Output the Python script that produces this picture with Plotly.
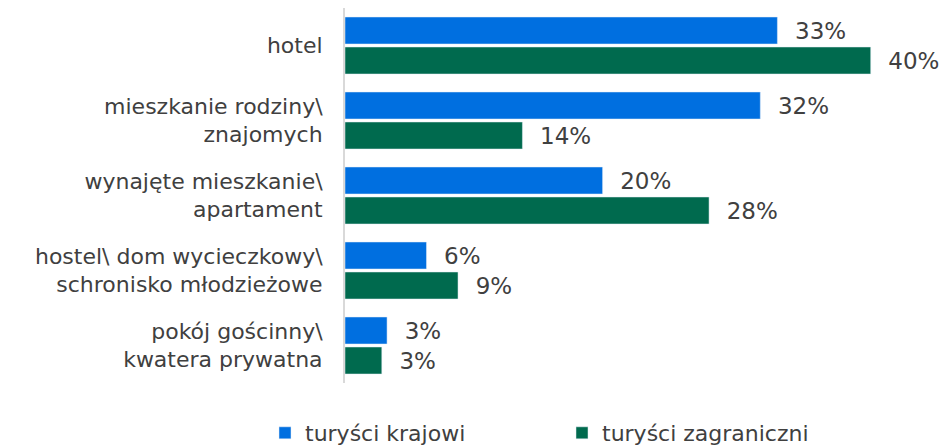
import plotly.graph_objects as go

categories = ["hotel", "mieszkanie rodziny\\<br>znajomych", "wynajęte mieszkanie\\<br>apartament",
              "hostel\\ dom wycieczkowy\\<br>schronisko młodzieżowe", "pokój gościnny\\<br>kwatera prywatna"]
krajowi = [32.9, 31.6, 19.6, 6.2, 3.2]
zagraniczni = [40.0, 13.5, 27.7, 8.6, 2.8]

font_family = "DejaVu Sans, sans-serif"
txt_col = "#404040"
pad = "\u00a0\u00a0"

fig = go.Figure()
fig.add_trace(go.Bar(y=categories, x=krajowi, orientation="h", name="turyści krajowi",
                     marker_color="#006fe0", texttemplate=pad + "%{x:.0f}%", textposition="outside",
                     textfont=dict(size=23, color=txt_col), cliponaxis=False, legend="legend",
                     showlegend=True))
fig.add_trace(go.Bar(y=categories, x=zagraniczni, orientation="h", name="turyści zagraniczni",
                     marker_color="#006a4e", texttemplate=pad + "%{x:.0f}%", textposition="outside",
                     textfont=dict(size=23, color=txt_col), cliponaxis=False, legend="legend2",
                     showlegend=True))

leg_common = dict(orientation="h", xref="container", yref="container", xanchor="left",
                  y=0.0, yanchor="bottom", font=dict(size=22, color=txt_col, family=font_family))

# page body adds an 8px offset; the figure's bottom edge runs slightly below the window
fig.update_layout(
    width=940, height=446, showlegend=True,
    margin=dict(l=337, r=51, t=0, b=71),
    barmode="group", bargap=0.2, bargroupgap=0.1,
    plot_bgcolor="white", paper_bgcolor="white",
    font=dict(family=font_family, color=txt_col, size=22),
    legend=dict(x=257 / 940, **leg_common),
    legend2=dict(x=554 / 940, **leg_common),
    xaxis=dict(range=[0, 42], showgrid=False, showticklabels=False, zeroline=False, showline=False),
    yaxis=dict(autorange="reversed", showline=True, linecolor="#d9d9d9", linewidth=2, automargin=False,
               ticks="", ticklabelstandoff=16, tickfont=dict(size=22, color=txt_col), showgrid=False),
)

fig.write_html("out.html")
